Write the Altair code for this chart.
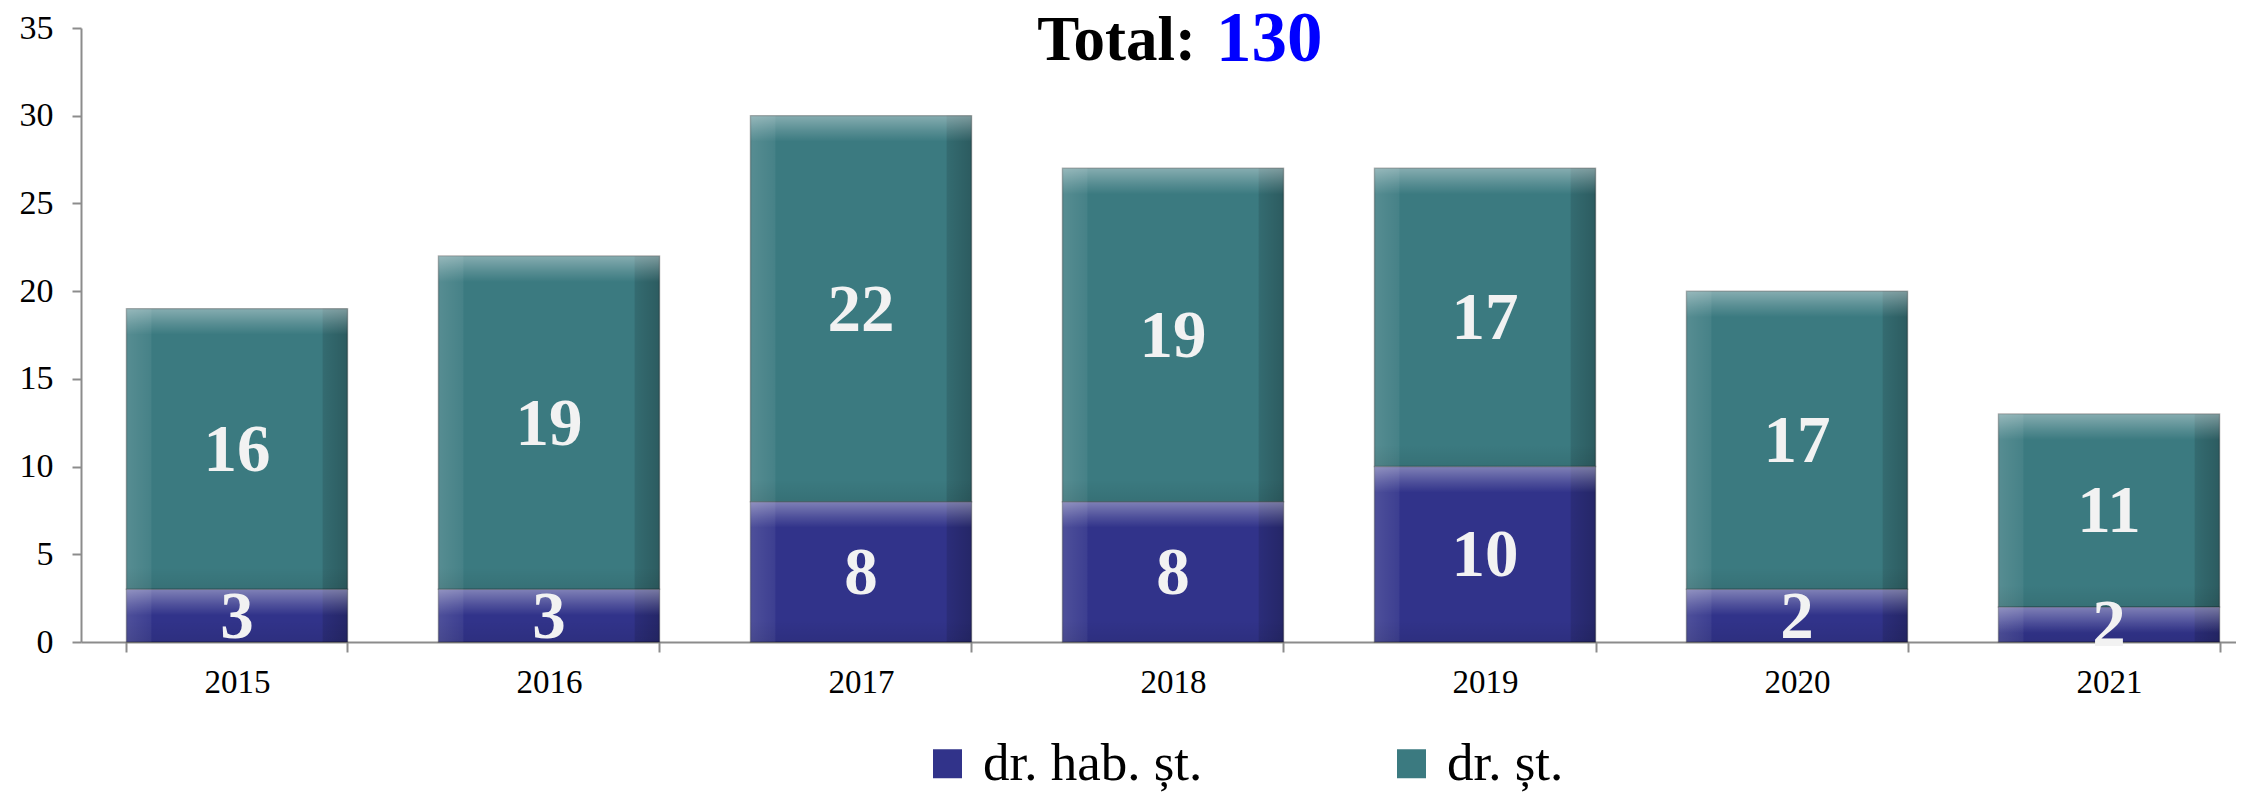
import altair as alt
import pandas as pd

# ---- data ----
years = ["2015", "2016", "2017", "2018", "2019", "2020", "2021"]
hab_values = [3, 3, 8, 8, 10, 3, 2]          # drawn heights of lower segment
hab_labels = ["3", "3", "8", "8", "10", "2", "2"]  # labels printed on lower segment
st_values = [16, 19, 22, 19, 17, 17, 11]
series_names = ["dr. hab. șt.", "dr. șt."]
title_left = "Total:"
title_number = "130"

rows = []
for y, h, hl, s in zip(years, hab_values, hab_labels, st_values):
    rows.append({"year": y, "series": series_names[0], "start": 0, "end": h,
                 "mid": h / 2, "label": hl})
    rows.append({"year": y, "series": series_names[1], "start": h, "end": h + s,
                 "mid": h + s / 2, "label": str(s)})
df = pd.DataFrame(rows)

FONT = "Liberation Serif"
AX = "#8c8c8c"

xscale = alt.Scale(range=[0, 2184], paddingInner=0.2917, paddingOuter=0.1458)
xaxis = alt.Axis(title=None, labelAngle=0, tickBand="extent", labelFont=FONT,
                 labelFontSize=33, labelColor="#000000", labelPadding=14,
                 labelBaseline="top", domainColor=AX, domainWidth=2,
                 tickColor=AX, tickWidth=2, tickSize=10)
yscale = alt.Scale(domain=[0, 35], nice=False)
yaxis = alt.Axis(title=None, values=[0, 5, 10, 15, 20, 25, 30, 35], labelFont=FONT,
                 labelFontSize=34, labelColor="#000000", labelPadding=19,
                 domainColor=AX, domainWidth=2, tickColor=AX, tickWidth=2,
                 tickSize=9, grid=False)


def X():
    return alt.X("year:N", scale=xscale, axis=xaxis, sort=years)


def Y(field):
    return alt.Y(field, scale=yscale, axis=yaxis)


base = alt.Chart(df)

bars = base.mark_bar(stroke="rgba(0,0,0,0.3)", strokeWidth=1.5).encode(
    x=X(),
    y=Y("end:Q"),
    y2="start:Q",
    color=alt.Color(
        "series:N",
        scale=alt.Scale(domain=series_names, range=["#31338a", "#3b7a80"]),
        legend=alt.Legend(
            title=None, orient="none", legendX=840, legendY=709,
            direction="horizontal", symbolType="square", symbolSize=841,
            symbolStrokeWidth=0, labelFont=FONT, labelFontSize=53,
            labelColor="#000000", labelOffset=9, columnPadding=182,
            labelLimit=0,
        ),
    ),
)

side = base.mark_bar(
    color=alt.Gradient(
        gradient="linear", x1=0, x2=1, y1=0, y2=0,
        stops=[
            alt.GradientStop(color="rgba(255,255,255,0.14)", offset=0),
            alt.GradientStop(color="rgba(255,255,255,0.06)", offset=0.11),
            alt.GradientStop(color="rgba(255,255,255,0)", offset=0.115),
            alt.GradientStop(color="rgba(0,0,0,0)", offset=0.885),
            alt.GradientStop(color="rgba(0,0,0,0.12)", offset=0.89),
            alt.GradientStop(color="rgba(0,0,0,0.25)", offset=1),
        ],
    )
).encode(x=X(), y=Y("end:Q"), y2="start:Q")

top = base.mark_bar(
    y2Offset=26,
    color=alt.Gradient(
        gradient="linear", x1=0, x2=0, y1=0, y2=1,
        stops=[
            alt.GradientStop(color="rgba(255,255,255,0.38)", offset=0),
            alt.GradientStop(color="rgba(255,255,255,0.14)", offset=0.6),
            alt.GradientStop(color="rgba(255,255,255,0)", offset=1),
        ],
    ),
).encode(x=X(), y=Y("end:Q"), y2="end:Q")

bottom = base.mark_bar(
    yOffset=-22,
    color=alt.Gradient(
        gradient="linear", x1=0, x2=0, y1=0, y2=1,
        stops=[
            alt.GradientStop(color="rgba(0,0,0,0)", offset=0),
            alt.GradientStop(color="rgba(0,0,0,0.08)", offset=1),
        ],
    ),
).encode(x=X(), y=Y("start:Q"), y2="start:Q")

labels = base.mark_text(
    font=FONT, fontSize=67, fontWeight="bold", color="#f2f2f2",
    baseline="middle", align="center", dy=2,
).encode(x=X(), y=Y("mid:Q"), text="label:N")

tdf = pd.DataFrame({"a": [title_left], "b": [title_number]})
t1 = alt.Chart(tdf).mark_text(
    font=FONT, fontSize=63, fontWeight="bold", color="#000000",
    align="right", baseline="alphabetic",
).encode(x=alt.value(1115), y=alt.value(32), text="a:N")
t2 = alt.Chart(tdf).mark_text(
    font=FONT, fontSize=71, fontWeight="bold", color="#0000ff",
    align="left", baseline="alphabetic",
).encode(x=alt.value(1135), y=alt.value(33), text="b:N")

chart = alt.layer(bars, side, top, bottom, labels, t1, t2).properties(
    width=2155,
    height=614,
    autosize=alt.AutoSizeParams(type="none"),
    padding={"left": 73, "top": 20, "right": 0, "bottom": 150},
    background="#ffffff",
).configure_view(stroke=None)

chart.save("out.html", embed_options={"renderer": "svg", "actions": False})
